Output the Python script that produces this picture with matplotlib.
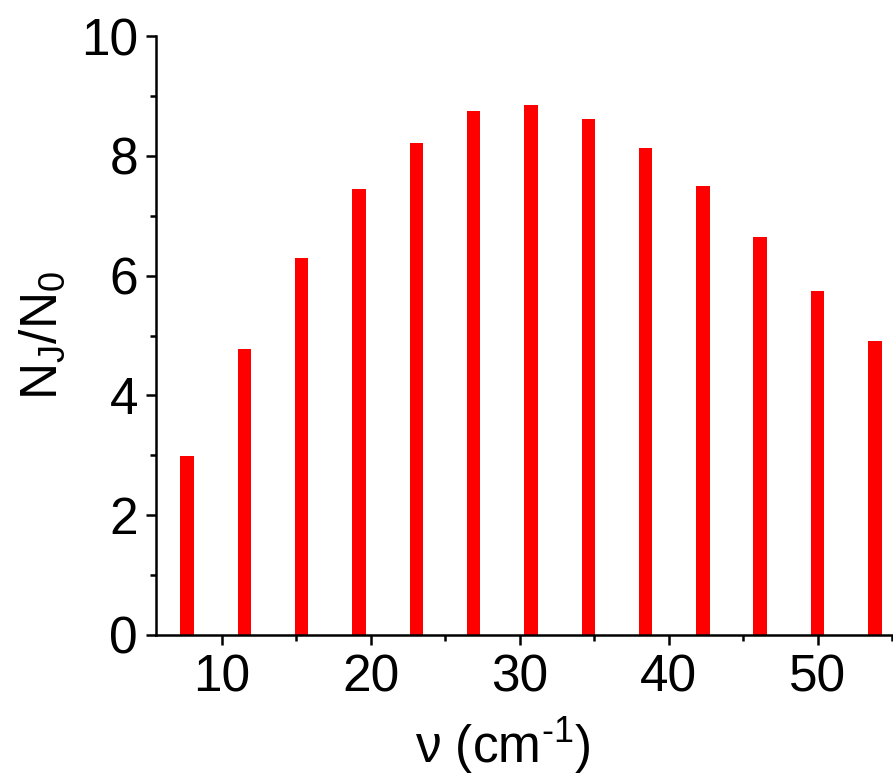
import numpy as np
import matplotlib
matplotlib.use("Agg")
import matplotlib.pyplot as plt
from matplotlib.ticker import MultipleLocator

# line positions (cm^-1) and relative populations
nu = [7.69, 11.54, 15.38, 19.23, 23.07, 26.92, 30.76, 34.61, 38.45, 42.30, 46.14, 49.99, 53.83]
ratio = [2.98, 4.77, 6.29, 7.45, 8.22, 8.75, 8.84, 8.61, 8.13, 7.50, 6.65, 5.75, 4.90]

plt.rcParams['font.family'] = ['Liberation Sans', 'DejaVu Sans']
plt.rcParams['mathtext.fontset'] = 'custom'
plt.rcParams['mathtext.rm'] = 'Liberation Sans'
plt.rcParams['mathtext.default'] = 'regular'

fig = plt.figure(figsize=(8.93, 7.75), dpi=100)
ax = fig.add_axes([156 / 893, 140 / 775, 1 - 156 / 893, (635 - 36) / 775])

# narrow red bars, one per rotational line
ax.bar(nu, ratio, width=0.9, color='#ff0000', edgecolor='none')

ax.set_xlim(5.6, 55.05)
ax.set_ylim(0, 10)
ax.xaxis.set_major_locator(MultipleLocator(10))
ax.xaxis.set_minor_locator(MultipleLocator(5))
ax.yaxis.set_major_locator(MultipleLocator(2))
ax.yaxis.set_minor_locator(MultipleLocator(1))

for side in ['top', 'right']:
    ax.spines[side].set_visible(False)
for side in ['left', 'bottom']:
    ax.spines[side].set_linewidth(1.8)

ax.tick_params(which='major', direction='out', length=7, width=1.8, labelsize=37, pad=6)
ax.tick_params(which='minor', direction='out', length=4, width=1.8)

ax.set_xlabel(r"ν (cm$^{\text{-1}}$)", fontsize=37)
ax.set_ylabel(r"N$_J$/N$_0$", fontsize=37)
ax.xaxis.set_label_coords(0.47, -0.135)
ax.yaxis.set_label_coords(-0.12, 0.5)

fig.savefig("out.png", dpi=100)
